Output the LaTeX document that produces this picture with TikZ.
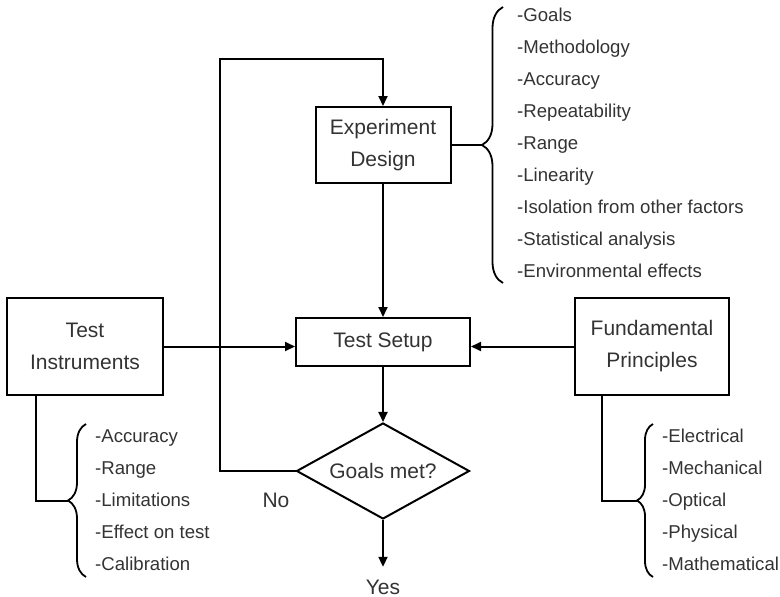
\documentclass[tikz,border=0pt]{standalone}
\usepackage{fontspec}
\setmainfont{Liberation Sans}
\usetikzlibrary{arrows.meta,calc,positioning,shapes.geometric,decorations.pathreplacing}
\tikzset{
    mybox/.style={draw=black,line width=2pt,align=center,text=black!80,
                  font=\fontsize{21}{32}\selectfont},
    mydiamond/.style={draw=black,line width=2pt,diamond,aspect=1.8,inner sep=0pt,
                  minimum width=173pt,minimum height=96pt,text=black!80,
                  font=\fontsize{21}{32}\selectfont},
    myflow/.style={line width=2pt,-{Triangle[length=10pt,width=9pt]}},
    myline/.style={line width=2pt},
    mybrace/.style={line width=1.8pt,decorate,decoration={brace,amplitude=#1}},
    myitem/.style={anchor=west,inner sep=0pt,text height=13.4pt,text depth=0pt,
                  text=black!80,font=\fontsize{18.6}{22}\selectfont},
    mylabel/.style={inner sep=0pt,text height=15pt,text depth=0pt,
                  text=black!80,font=\fontsize{21}{25}\selectfont}
}

\begin{document}
\begin{tikzpicture}[x=1pt,y=-1pt]
  \useasboundingbox (0,0) rectangle (780,597);

  % boxes of the main chain
  \node[mybox,minimum width=135pt,minimum height=76pt] (design) at (383,145) {Experiment\\Design};
  \node[mybox,minimum width=174pt,minimum height=48pt] (setup)  at (383,342) {Test Setup};
  \node[mydiamond] (goals) at (383,471) {Goals met?};
  \node[mybox,minimum width=156pt,minimum height=97pt] (instr)  at (85,346.5) {Test\\Instruments};
  \node[mybox,minimum width=154pt,minimum height=97pt] (fund)   at (652,346.5) {Fundamental\\Principles};

  \node[mylabel] (no) at (276,500) {No};
  \node[mylabel,inner ysep=12pt] (yes) at (383,586.5) {Yes};

  % arrows
  \draw[myflow] (design) -- (setup);
  \draw[myflow] (setup) -- (goals);
  \draw[myflow] (instr.east) -- (instr.east -| setup.west);
  \draw[myflow] (fund.west) -- (fund.west -| setup.east);
  \draw[myflow] (goals) -- (yes);

  % way back when the goals are not met
  \coordinate (loop) at (220,59);
  \draw[myflow] (goals.west) -| (loop) -| (design.north);

  % braces
  \coordinate (dtop) at (503,7);
  \coordinate (dbot) at (503,283);
  \coordinate (dtip) at (482,145);
  \draw[mybrace=21pt] (dbot) -- (dtop);
  \draw[myline] (design.east) -- (dtip);

  \coordinate (itop) at (86,424);
  \coordinate (ibot) at (86,577);
  \coordinate (itip) at (68,500.5);
  \draw[mybrace=18pt] (ibot) -- (itop);
  \draw[myline] ($(instr.south west)!0.19!(instr.south east)$) |- (itip);

  \coordinate (ftop) at (653,424);
  \coordinate (fbot) at (653,577);
  \coordinate (ftip) at (637,500.5);
  \draw[mybrace=16pt] (fbot) -- (ftop);
  \draw[myline] ($(fund.south west)!0.18!(fund.south east)$) |- (ftip);

  % lists beside the braces
  \foreach \lab [count=\i] in {Goals,Methodology,Accuracy,Repeatability,Range,Linearity,
      Isolation from other factors,Statistical analysis,Environmental effects}{
    \node[myitem] (d\i) at (517,{15+32*(\i-1)}) {-\lab};
  }
  \foreach \lab [count=\i] in {Accuracy,Range,Limitations,Effect on test,Calibration}{
    \node[myitem] (i\i) at (95,{436+32*(\i-1)}) {-\lab};
  }
  \foreach \lab [count=\i] in {Electrical,Mechanical,Optical,Physical,Mathematical}{
    \node[myitem] (f\i) at (662,{436+32*(\i-1)}) {-\lab};
  }
\end{tikzpicture}
\end{document}
